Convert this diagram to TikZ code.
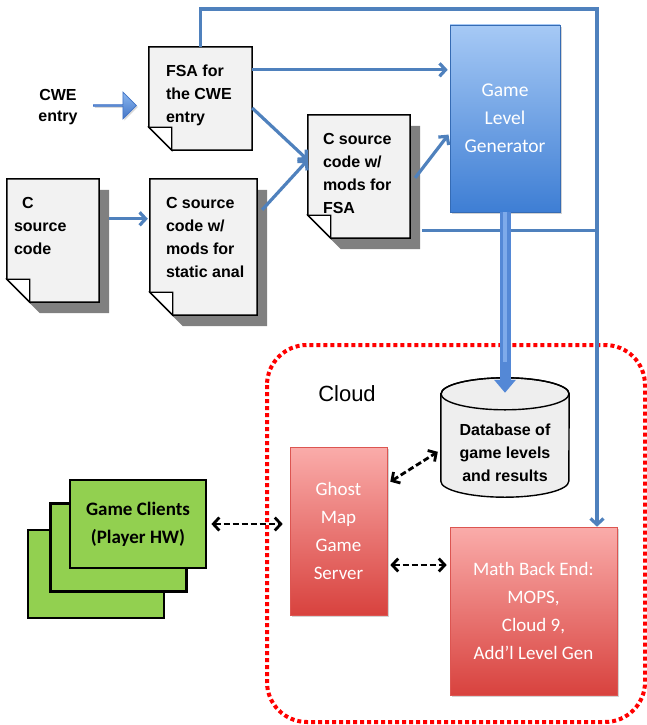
\documentclass[tikz,border=0pt]{standalone}
\usepackage{fontspec}
\setmainfont{Liberation Sans}
\newfontfamily\calibri{Carlito}
\usetikzlibrary{shapes.arrows,arrows.meta,shadows}
\pgfdeclarelayer{background}
\pgfsetlayers{background,main}

\definecolor{linkblue}{RGB}{79,129,189}
\definecolor{genlight}{RGB}{166,201,245}
\definecolor{gendark}{RGB}{62,126,212}
\definecolor{arrowlight}{RGB}{140,184,240}
\definecolor{arrowdark}{RGB}{66,116,198}
\definecolor{shaftblue}{RGB}{84,136,214}
\definecolor{shaftlight}{RGB}{126,170,234}
\definecolor{redlight}{RGB}{250,172,170}
\definecolor{reddark}{RGB}{216,66,62}
\definecolor{clientgreen}{RGB}{146,208,80}
\definecolor{docface}{RGB}{242,242,242}
\definecolor{dbface}{RGB}{238,238,238}

% dog-eared page outline around an (empty) node
\newcommand{\fold}{23pt}
\newcommand{\docpath}[2]{([shift={#2}]#1.north west) -- ([shift={#2}]#1.north east) -- ([shift={#2}]#1.south east) -- ([shift={#2},xshift=\fold]#1.south west) -- ([shift={#2},yshift=\fold]#1.south west) -- cycle}
\newcommand{\docshadow}[1]{\fill[black!50] \docpath{#1}{(10pt,-11pt)};}
\newcommand{\docnote}[1]{%
	\fill[docface] \docpath{#1}{(0pt,0pt)};
	\draw[line width=1.5pt] \docpath{#1}{(0pt,0pt)};
	\filldraw[fill=white, line width=1.3pt] ([yshift=\fold]#1.south west) -- ([shift={(\fold,\fold)}]#1.south west) -- ([xshift=\fold]#1.south west) -- cycle;}

\begin{document}
\begin{tikzpicture}[x=1pt, y=-1pt,
	doc/.style={rectangle, inner sep=0pt, draw=none},
	doctext/.style={anchor=north west, inner sep=0pt, align=left, font=\bfseries\fontsize{16pt}{23pt}\selectfont},
	link/.style={draw=linkblue, line width=3.2pt, -{Straight Barb[length=6pt,width=13pt]}},
	linkline/.style={draw=linkblue, line width=3.2pt},
	duplex/.style={black, line width=2.8pt, dash pattern=on 6pt off 3pt, {Straight Barb[length=6pt,width=13pt]}-{Straight Barb[length=6pt,width=13pt]}},
	fatarrow/.style={single arrow, single arrow head extend=6pt, single arrow tip angle=90, inner sep=0pt, minimum height=43pt, minimum width=27pt, top color=arrowlight, bottom color=arrowdark, draw=arrowdark, line width=.8pt, drop shadow={shadow xshift=1.5pt, shadow yshift=-1.5pt, opacity=.3}},
	genbox/.style={rectangle, top color=genlight, bottom color=gendark, draw=gendark!85!black, line width=.6pt, text=white, align=center, font=\calibri\fontsize{19.5pt}{28pt}\selectfont, drop shadow={shadow xshift=2pt, shadow yshift=-2pt, opacity=.35}},
	redbox/.style={rectangle, top color=redlight, bottom color=reddark, draw=reddark!90!white, line width=.6pt, text=white, align=center, font=\calibri\fontsize{19pt}{28pt}\selectfont, drop shadow={shadow xshift=2pt, shadow yshift=-2pt, opacity=.35}},
	client/.style={rectangle, fill=clientgreen, draw=black, line width=2.8pt, minimum width=136pt, minimum height=88pt},
	cloudline/.style={draw=red, line width=4pt, dash pattern=on 4pt off 3pt, rounded corners=40pt}]

	\useasboundingbox (0,0) rectangle (647,725);

	\draw[cloudline] (267,345) rectangle (645,722);
	\node[font=\fontsize{22pt}{26pt}\selectfont] (cloudlbl) at (347,394) {Cloud};

	% source documents
	\node[font=\bfseries\fontsize{16pt}{21pt}\selectfont, align=center] (cwe) at (58,107.5) {CWE\\entry};
	\node[fatarrow] (cwearr) at (114.5,105.5) {};

	\node[doc, minimum width=103pt, minimum height=103pt] (fsa) at (200.5,98.5) {};
	\docnote{fsa}
	\node[doctext] (fsa-t) at ([shift={(17pt,-18pt)}]fsa.north west) {FSA for\\the CWE\\entry};

	\node[doc, minimum width=92pt, minimum height=123pt] (csrc) at (53,240.5) {};
	\docshadow{csrc}
	\docnote{csrc}
	\node[doctext] (csrc-t) at ([shift={(7pt,-18pt)}]csrc.north west) {\hspace*{8pt}C\\source\\code};

	\node[doc, minimum width=107pt, minimum height=136pt] (static) at (203.5,247) {};
	\docshadow{static}
	\docnote{static}
	\node[doctext] (static-t) at ([shift={(16pt,-18pt)}]static.north west) {C source\\code w/\\mods for\\static anal};

	\node[doc, minimum width=102pt, minimum height=123pt] (fsamod) at (359,176.5) {};
	\docshadow{fsamod}
	\docnote{fsamod}
	\node[doctext] (fsamod-t) at ([shift={(15pt,-18pt)}]fsamod.north west) {C source\\code w/\\mods for\\FSA};

	\node[genbox, minimum width=110pt, minimum height=187pt] (gen) at (505,118.5) {Game\\Level\\Generator};

	% database cylinder
	\node[doc, minimum width=128pt, minimum height=119pt] (db) at (505,437.5) {};
	\begin{pgfonlayer}{background}
		\filldraw[fill=dbface, line width=1.4pt] ([yshift=-16pt]db.north west) -- ([yshift=16pt]db.south west) arc[start angle=180, end angle=360, x radius=64pt, y radius=16pt] -- ([yshift=-16pt]db.north east) arc[start angle=0, end angle=180, x radius=64pt, y radius=16pt] -- cycle;
		\draw[line width=1.4pt] ([yshift=-16pt]db.north) ellipse[x radius=64pt, y radius=16pt];
	\end{pgfonlayer}
	\node[font=\bfseries\fontsize{16pt}{23pt}\selectfont, align=center] (db-t) at ([yshift=-15.5pt]db.center) {Database of\\game levels\\and results};

	\node[redbox, minimum width=97pt, minimum height=168pt] (ghost) at (338.5,531) {Ghost\\Map\\Game\\Server};
	\node[redbox, minimum width=167pt, minimum height=168pt] (math) at (533.5,611) {Math Back End:\\MOPS,\\Cloud 9,\\Add’l Level Gen};

	\node[client] (client3) at (96,574) {};
	\node[client] (client2) at (118.5,547.5) {};
	\node[client, font=\calibri\bfseries\fontsize{19pt}{28pt}\selectfont, align=center] (client1) at (138,524) {Game Clients\\(Player HW)};

	% connectors
	\coordinate (bus) at (597,9);
	\draw[link] (fsa.north) |- (bus) -- (bus |- math.north);
	\draw[linkline] ([shift={(12pt,8pt)}]fsamod.south east) coordinate (tap) -- (tap -| bus);
	\draw[link, shorten >=2pt] ([yshift=-23pt]fsa.north east) coordinate (fsaout) -- (fsaout -| gen.west);
	\draw[link] ([yshift=-9.5pt]fsa.east) -- ([yshift=16.5pt]fsamod.west);
	\draw[link] ([shift={(5pt,-31pt)}]static.north east) -- ([yshift=16.5pt]fsamod.west);
	\draw[link, shorten >=2pt] ([shift={(10pt,-40pt)}]csrc.north east) coordinate (csout) -- (csout -| static.west);
	\draw[link, shorten >=2pt] ([shift={(5pt,-63pt)}]fsamod.north east) -- ([yshift=-14.5pt]gen.west);

	\coordinate (dbtop) at ([yshift=-15pt]db.north);
	\draw[line width=11pt, draw=shaftblue, -{Triangle[length=13pt,width=21pt]}] (gen.south) -- (gen.south |- dbtop);
	\draw[line width=4pt, draw=shaftlight] (gen.south) -- ([yshift=-150pt]gen.south);

	\draw[duplex, shorten <=4pt, shorten >=7pt] (client1.east) -- (client1.east -| ghost.west);
	\draw[duplex] ([shift={(3pt,-35pt)}]ghost.north east) -- ([shift={(-3pt,-74pt)}]db.north west);
	\draw[duplex, shorten >=3pt] ([shift={(3pt,-34pt)}]ghost.east) coordinate (gm) -- (gm -| math.west);
\end{tikzpicture}
\end{document}
